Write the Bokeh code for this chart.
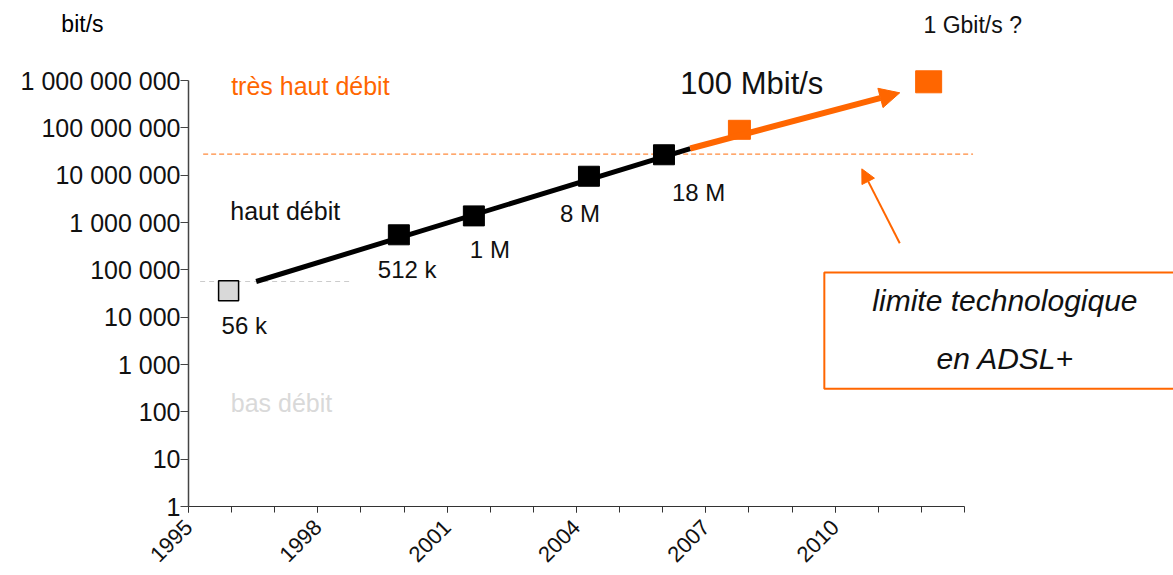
import math
from bokeh.plotting import figure
from bokeh.layouts import column
from bokeh.models import (FixedTicker, CustomJSTickFormatter, Label, Arrow,
                          NormalHead, Range1d)
from bokeh.embed import file_html
from bokeh.resources import INLINE

# ---- data ----
years = [1995.93, 1999.88, 2001.62, 2004.29, 2006.03, 2007.78, 2012.17]
speeds = [36000, 550000, 1.38e6, 9.5e6, 2.7e7, 9.1e7, 9.4e8]
speed_labels = ["56 k", "512 k", "1 M", "8  M", "18 M"]

trend_years = [1996.57, 2006.64]
trend_speeds = [56700, 3.66e7]
future_years = [2006.64, 2011.5]
future_speeds = [3.66e7, 5.5e8]

adsl_limit = 2.79e7          # orange dashed level
adsl_limit_years = [1995.34, 2013.2]
modem_limit = 56700           # grey dashed level
modem_limit_years = [1995.27, 1998.8]

x_ticks = [1995, 1998, 2001, 2004, 2007, 2010]
x_minor = list(range(1995, 2014))
y_ticks = [10 ** i for i in range(10)]

ORANGE = "#ff6600"
FONT = "Liberation Sans"
X_END = 2017.85
X_PER_PX = 1 / 43.1

# ---- top strip with the unit and the 1 Gbit/s note ----
top = figure(width=1173, height=38, x_range=Range1d(1995 - 188 * X_PER_PX, X_END),
             y_range=Range1d(0, 38), output_backend="svg", toolbar_location=None,
             min_border_left=0, min_border_right=0, min_border_top=0,
             min_border_bottom=0)
top.frame_align = False
top.axis.visible = False
top.grid.visible = False
top.outline_line_color = None
top.add_layout(Label(x=1992.05, y=15, text="bit/s", text_font=FONT,
                     text_font_size="23px", text_color="black",
                     text_align="left", text_baseline="middle"))
top.add_layout(Label(x=2012.05, y=14, text="1 Gbit/s ?", text_font=FONT,
                     text_font_size="23px", text_color="#111111",
                     text_align="left", text_baseline="middle"))

# ---- main chart ----
p = figure(width=1173, height=537, y_axis_type="log",
           x_range=Range1d(1995, X_END), y_range=Range1d(1, 10 ** 9.888),
           output_backend="svg", toolbar_location=None,
           min_border_left=188, min_border_right=0, min_border_top=0,
           min_border_bottom=69)
p.frame_align = False
p.xgrid.visible = False
p.ygrid.visible = False
p.outline_line_color = None

xa = p.xaxis[0]
xa.ticker = FixedTicker(ticks=x_ticks, minor_ticks=x_minor)
xa.bounds = (1995, 2013)
xa.formatter = CustomJSTickFormatter(code="return Math.round(tick).toString();")
xa.major_label_orientation = math.pi / 4
xa.major_tick_in = 0
xa.major_tick_out = 6
xa.minor_tick_in = 0
xa.minor_tick_out = 6
xa.axis_line_color = "#333333"
xa.major_tick_line_color = "#333333"
xa.minor_tick_line_color = "#333333"
xa.major_label_text_font = FONT
xa.major_label_text_font_size = "22px"
xa.major_label_text_color = "#111111"
xa.major_label_standoff = 11

ya = p.yaxis[0]
ya.ticker = FixedTicker(ticks=y_ticks, minor_ticks=[])
ya.bounds = (1, 1e9)
ya.formatter = CustomJSTickFormatter(
    code='return Math.round(tick).toString().replace(/\\B(?=(\\d{3})+(?!\\d))/g, " ");')
ya.major_tick_in = 0
ya.major_tick_out = 8
ya.minor_tick_line_color = None
ya.axis_line_color = "#444444"
ya.axis_line_width = 1.5
ya.major_tick_line_color = "#444444"
ya.major_label_text_font = FONT
ya.major_label_text_font_size = "25px"
ya.major_label_text_color = "#111111"
ya.major_label_standoff = 0

# dashed limit lines
p.line(adsl_limit_years, [adsl_limit, adsl_limit], line_color="#ff8a3d",
       line_width=1.3, line_dash="5 3")
p.line(modem_limit_years, [modem_limit, modem_limit], line_color="#cccccc",
       line_width=1, line_dash="5 4")

# black trend
p.line(trend_years, trend_speeds, line_color="black", line_width=5)

# future orange trend with arrow
p.add_layout(Arrow(end=NormalHead(size=20, fill_color=ORANGE, line_color=ORANGE),
                   x_start=future_years[0], y_start=future_speeds[0],
                   x_end=future_years[1], y_end=future_speeds[1],
                   line_color=ORANGE, line_width=6))

# markers
p.rect(years[:1], speeds[:1], width=20, height=20, width_units="screen",
       height_units="screen", fill_color="#d9d9d9", line_color="black", line_width=1.5)
p.rect(years[1:5], speeds[1:5], width=21, height=20, width_units="screen",
       height_units="screen", fill_color="black", line_color="black")
p.rect(years[5:6], speeds[5:6], width=22, height=19, width_units="screen",
       height_units="screen", fill_color=ORANGE, line_color=ORANGE)
p.rect(years[6:7], speeds[6:7], width=26, height=22, width_units="screen",
       height_units="screen", fill_color=ORANGE, line_color=ORANGE)

# value labels under points
offsets = [(-7, -35), (-21, -35), (-4, -34), (-29, -37), (8, -38)]
for i, txt in enumerate(speed_labels):
    dx, dy = offsets[i]
    p.add_layout(Label(x=years[i], y=speeds[i], x_offset=dx, y_offset=dy, text=txt,
                       text_font=FONT, text_font_size="24px", text_color="#111111",
                       text_align="left", text_baseline="middle"))

def lab(x, y, txt, size="24px", color="#111111", align="left", style="normal"):
    p.add_layout(Label(x=x, y=y, text=txt, text_font=FONT, text_font_size=size,
                       text_color=color, text_align=align, text_baseline="middle",
                       text_font_style=style))

lab(1995.99, 7.85e8, "très haut débit", size="25px", color=ORANGE)
lab(1995.97, 1.71e6, "haut débit", size="25px")
lab(1995.98, 157, "bas débit", size="25px", color="#d9d9d9")
lab(2006.41, 8.65e8, "100 Mbit/s", size="31px")

# limit annotation box + arrow
p.quad(left=[2009.75], right=[2019], bottom=[307], top=[87900],
       fill_alpha=0, line_color=ORANGE, line_width=2)
lab(2013.94, 22500, "limite technologique", size="30px", align="center", style="italic")
lab(2013.95, 1340, "en ADSL+", size="30px", align="center", style="italic")
p.add_layout(Arrow(end=NormalHead(size=14, fill_color=ORANGE, line_color=ORANGE),
                   x_start=2011.5, y_start=3.66e5, x_end=2010.62, y_end=1.36e7,
                   line_color=ORANGE, line_width=2))

layout = column(top, p, spacing=0)
open("out.html", "w").write(file_html(layout, INLINE))
